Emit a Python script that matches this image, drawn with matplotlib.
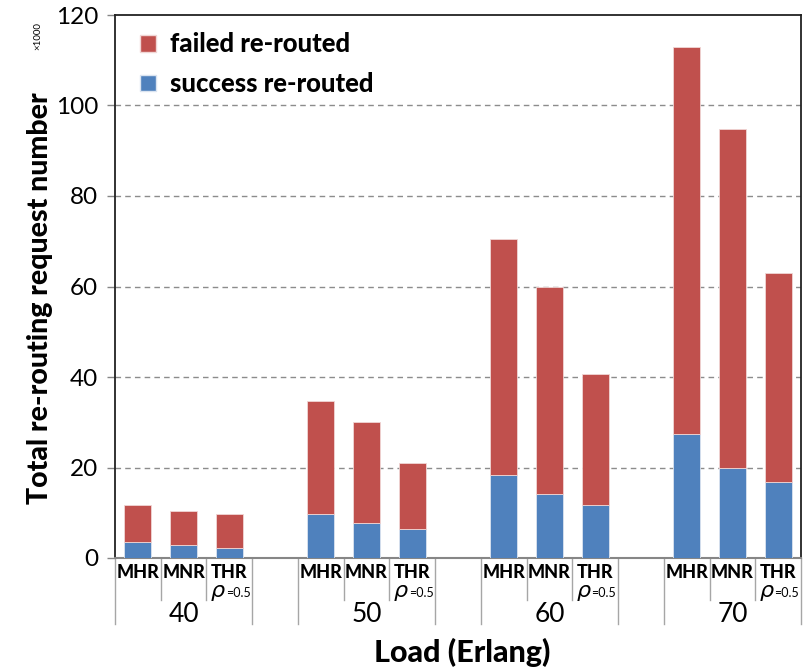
import matplotlib
matplotlib.use("Agg")
import matplotlib.pyplot as plt
import matplotlib.transforms as mtransforms
from matplotlib.patches import Patch

plt.rcParams['font.family'] = ['Lato', 'DejaVu Sans']

loads = ['40', '50', '60', '70']
methods = ['MHR', 'MNR', 'THR']
success = [3.6, 2.9, 2.3,
           9.8, 7.7, 6.3,
           18.4, 14.2, 11.8,
           27.5, 19.8, 16.9]
failed = [8.2, 7.5, 7.4,
          25.0, 22.4, 14.8,
          52.1, 45.8, 28.8,
          85.4, 75.0, 46.0]
yticks = [0, 20, 40, 60, 80, 100, 120]

red = '#C0504D'
blue = '#4F81BD'

fig = plt.figure(figsize=(8.04, 6.72), dpi=100)
ax = fig.add_axes([115 / 804, 1 - 558 / 672, 686 / 804, 543 / 672])

# positions: 3 bars per group, one empty slot between groups
pos = []
for g in range(len(loads)):
    for m in range(len(methods)):
        pos.append(g * (len(methods) + 1) + m)

ax.bar(pos, success, width=0.59, color=blue, edgecolor='#dbe4f0', linewidth=0.6, zorder=3)
ax.bar(pos, failed, bottom=success, width=0.59, color=red, edgecolor='#f0d6d5', linewidth=0.6, zorder=3)

ax.set_xlim(-0.5, len(loads) * (len(methods) + 1) - 1.5)
ax.set_ylim(0, 120)
ax.set_yticks(yticks)
ax.set_yticklabels([str(v) for v in yticks], fontsize=17.5)
ax.tick_params(axis='y', length=6, color='#868686', width=1, pad=6)
ax.set_xticks([])
for v in yticks[1:-1]:
    ax.axhline(v, color='#8c8c8c', linestyle=(0, (4, 3)), linewidth=1.0, zorder=1)

for s in ['left', 'top', 'right']:
    ax.spines[s].set_color('#222222')
    ax.spines[s].set_linewidth(1.3)
ax.spines['bottom'].set_color('#868686')
ax.spines['bottom'].set_linewidth(1.5)

trans = mtransforms.blended_transform_factory(ax.transData, ax.transAxes)
short_y = -42 / 543
long_y = -66 / 543
for g in range(len(loads)):
    s = g * (len(methods) + 1)
    for k in range(len(methods) + 1):
        x = s - 0.5 + k
        bottom = long_y if k in (0, len(methods)) else short_y
        ax.plot([x, x], [0, bottom], transform=trans, color='#a6a6a6',
                linewidth=1.0, clip_on=False)
    for m, name in enumerate(methods):
        ax.text(s + m, -15 / 543, name, transform=trans, ha='center', va='center',
                fontsize=13, fontweight='black')
        if name == 'THR':
            ax.text(s + m - 0.08, -35 / 543, r'$\rho$', transform=trans, ha='right',
                    va='center', fontsize=16)
            ax.text(s + m - 0.08, -35 / 543, '=0.5', transform=trans, ha='left',
                    va='center', fontsize=9)
    ax.text(s + 1, -57 / 543, loads[g], transform=trans, ha='center', va='center',
            fontsize=19)

fig.text(462 / 804, 1 - 652 / 672, 'Load (Erlang)', ha='center', va='center',
         fontsize=22, fontweight='black')
fig.text(40 / 804, 1 - 298 / 672, 'Total re-routing request number', ha='center',
         va='center', rotation=90, fontsize=20.5, fontweight='black')
fig.text(38 / 804, 1 - 36 / 672, '×1000', ha='center', va='center', rotation=90,
         fontsize=7)

handles = [Patch(facecolor=red, edgecolor='#f0d6d5'), Patch(facecolor=blue, edgecolor='#dbe4f0')]
ax.legend(handles, ['failed re-routed', 'success re-routed'], loc='upper left',
          bbox_to_anchor=(-8 / 686, 1 + 16 / 543), frameon=False,
          prop={'size': 18.5, 'weight': 'black'},
          handlelength=0.6, handleheight=0.6, handletextpad=0.55, labelspacing=0.6,
          borderaxespad=0.9)

fig.savefig('out.png', dpi=100)
